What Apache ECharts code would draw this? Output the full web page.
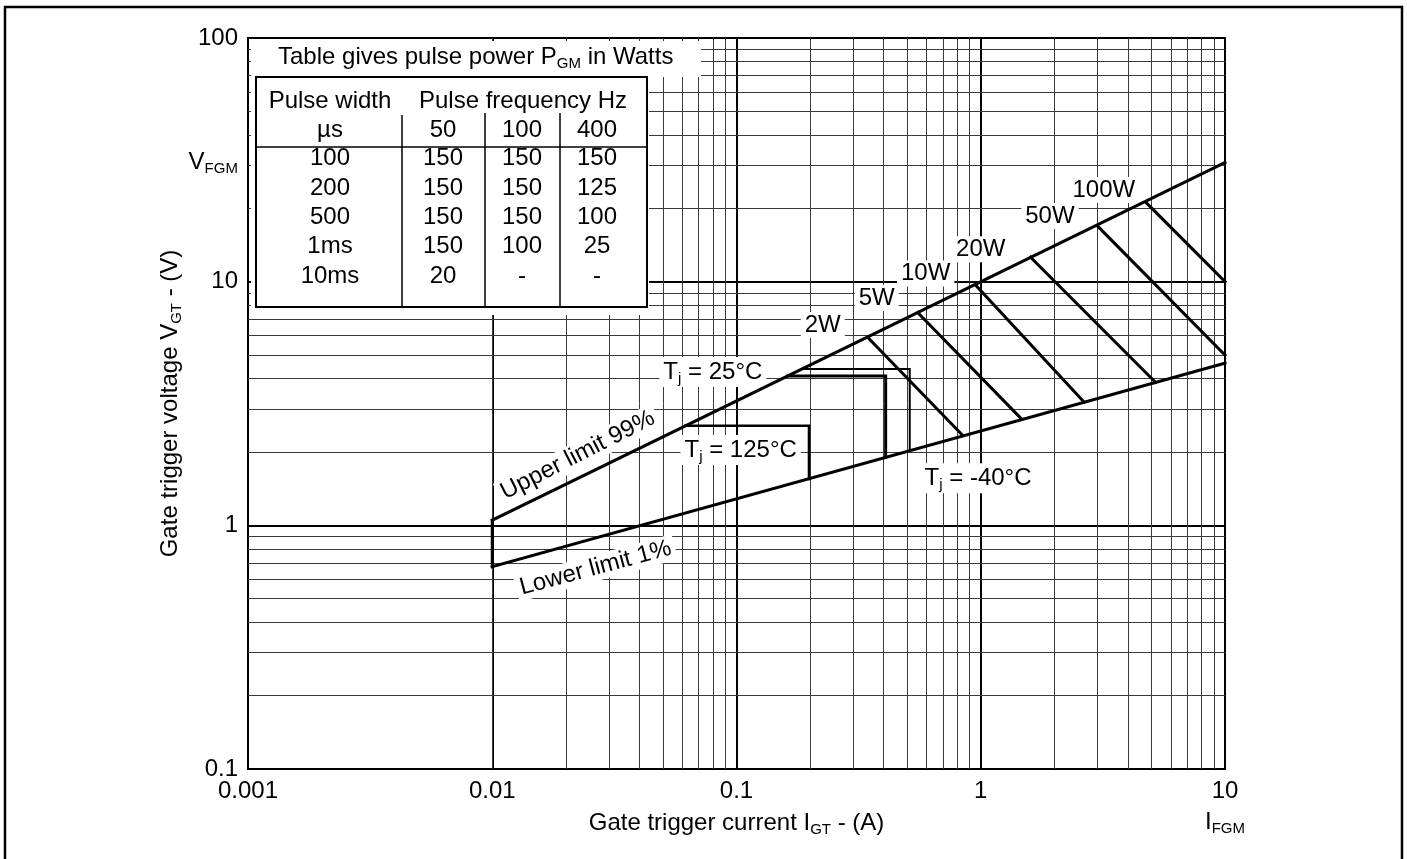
<!DOCTYPE html>
<html><head><meta charset="utf-8">
<script src="https://cdn.jsdelivr.net/npm/echarts@6/dist/echarts.min.js"></script>
<style>html,body{margin:0;padding:0;background:#fff}#c{width:1407px;height:859px}</style>
</head><body><div id="c"></div>
<script>
// ---- data ----
const xTicks = [0.001, 0.01, 0.1, 1, 10];
const yTicks = [0.1, 1, 10, 100];
const upperLimit = [[0.01, 1.05], [10, 30.8]];
const lowerLimit = [[0.01, 0.676], [10, 4.63]];
const leftEdge = [[0.01, 1.05], [0.01, 0.676]];
const tjMinus40Box = [[0.185, 4.38], [0.512, 4.38], [0.512, 2.02]];
const tj25Box = [[0.162, 4.10], [0.408, 4.10], [0.408, 1.90]];
const tj125Box = [[0.0617, 2.56], [0.198, 2.56], [0.198, 1.55]];
const power2W = [[0.345, 5.9], [0.84, 2.35]];
const power5W = [[0.553, 7.46], [1.46, 2.75]];
const power10W = [[0.95, 9.7], [2.65, 3.2]];
const power20W = [[1.6, 12.6], [5.2, 3.86]];
const power50W = [[3.01, 16.9], [10, 5.0]];
const power100W = [[4.78, 21.0], [10, 10]];
const powerLabels = ['2W', '5W', '10W', '20W', '50W', '100W'];
const powerLabelAt = [[0.2255, 6.64], [0.375, 8.57], [0.595, 10.8], [1.0, 13.6], [1.92, 18.6], [3.19, 23.8]];
const tjLabels = ['T{sub|j} = 25°C', 'T{sub|j} = 125°C', 'T{sub|j} = -40°C'];
const tjLabelAt = [[0.080, 4.26], [0.104, 2.04], [0.975, 1.56]];
const limitLabels = ['Upper limit 99%', 'Lower limit 1%'];
const limitLabelAt = [[0.0224, 1.94], [0.0265, 0.668]];
const vfgmAt = [0.001, 31];
const ifgmAt = [10, 0.1];
const tableTitle = 'Table gives pulse power P{sub|GM} in Watts';
const tableHead1 = ['Pulse width', 'Pulse frequency Hz'];
const tableHead2 = ['µs', '50', '100', '400'];
const tableRows = [
  ['100', '150', '150', '150'],
  ['200', '150', '150', '125'],
  ['500', '150', '150', '100'],
  ['1ms', '150', '100', '25'],
  ['10ms', '20', '-', '-']
];

// ---- styling / layout ----
const FONT = '"Liberation Sans", Arial, Helvetica, sans-serif';
const FS = 24;
const subStyle = { fontSize: 15, fontFamily: FONT, color: '#000', padding: [13, 0, 0, 0], verticalAlign: 'bottom' };
const richBase = { sub: subStyle };

const chart = echarts.init(document.getElementById('c'), null, { renderer: 'canvas' });

function minorValues(lo, hi) {
  const out = [];
  for (let d = lo; d < hi * 0.999; d *= 10) {
    for (let k = 2; k <= 9; k++) out.push(+(d * k).toPrecision(3));
  }
  return out;
}
const xMinor = minorValues(xTicks[0], xTicks[xTicks.length - 1]);
const yMinor = minorValues(yTicks[0], yTicks[yTicks.length - 1]);

function lineSeries(data, width, z) {
  return {
    type: 'line', data: data, symbol: 'none', silent: true, z: z || 10,
    lineStyle: { color: '#000', width: width, cap: 'square', join: 'miter' }, animation: false
  };
}

function labelSeries(texts, positions, extra) {
  return {
    type: 'scatter', symbolSize: 0.1, silent: true, z: 6, animation: false,
    itemStyle: { color: '#fff', opacity: 1 },
    data: texts.map((t, i) => ({
      value: positions[i],
      label: Object.assign({
        show: true, position: 'inside', formatter: t, color: '#000', opacity: 1,
        fontSize: FS, fontFamily: FONT, backgroundColor: '#fff', padding: [1, 4],
        rich: richBase
      }, extra ? extra(i) : {})
    }))
  };
}

const series = [
  {
    type: 'line', data: [], symbol: 'none', silent: true, z: 1, animation: false,
    markLine: {
      silent: true, symbol: ['none', 'none'], label: { show: false }, animation: false,
      lineStyle: { type: 'solid', color: '#3a3a3a', width: 1 },
      data: xMinor.map(v => ({ xAxis: v })).concat(yMinor.map(v => ({ yAxis: v })))
    }
  },
  lineSeries(upperLimit, 3),
  lineSeries(lowerLimit, 3),
  lineSeries(leftEdge, 3),
  lineSeries(tjMinus40Box, 2),
  lineSeries(tj25Box, 3),
  lineSeries(tj125Box, 2.5),
  lineSeries(power2W, 3),
  lineSeries(power5W, 3),
  lineSeries(power10W, 3),
  lineSeries(power20W, 3),
  lineSeries(power50W, 3),
  lineSeries(power100W, 3),
  labelSeries(powerLabels, powerLabelAt),
  labelSeries(tjLabels, tjLabelAt),
  labelSeries(limitLabels, limitLabelAt, i => ({ rotate: i === 0 ? 27 : 15 })),
  labelSeries(['V{sub|FGM}'], [vfgmAt], () => ({ position: 'left', distance: 6, backgroundColor: 'transparent' })),
  labelSeries(['I{sub|FGM}'], [ifgmAt], () => ({ position: 'bottom', distance: 38, backgroundColor: 'transparent' }))
];

// table graphics (pixel layout of the inset table)
const colX = [330, 443, 522, 597];
const rowY = [158, 188, 217, 246, 276];
function txt(x, y, s, align) {
  return {
    type: 'text', z: 101, silent: true,
    style: { x: x, y: y, text: s, fill: '#000', fontSize: FS, fontFamily: FONT,
      align: align || 'center', verticalAlign: 'middle', rich: richBase }
  };
}
function seg(x1, y1, x2, y2, w) {
  return { type: 'line', z: 101, silent: true, shape: { x1: x1, y1: y1, x2: x2, y2: y2 }, style: { stroke: '#000', lineWidth: w } };
}
const graphics = [
  { type: 'rect', z: 100, silent: true, shape: { x: 251, y: 41, width: 450, height: 36 }, style: { fill: '#fff' } },
  { type: 'rect', z: 100, silent: true, shape: { x: 251, y: 41, width: 398, height: 274 }, style: { fill: '#fff' } },
  { type: 'rect', z: 101, silent: true, shape: { x: 256, y: 77, width: 391, height: 230 }, style: { fill: 'none', stroke: '#000', lineWidth: 2 } },
  seg(256, 147, 647, 147, 1.5),
  seg(402, 115, 402, 307, 1.5),
  seg(485, 113, 485, 307, 1.5),
  seg(560, 113, 560, 307, 1.5),
  txt(278, 57, tableTitle, 'left'),
  txt(colX[0], 101, tableHead1[0]),
  txt(523, 101, tableHead1[1]),
  { type: 'rect', z: 102, silent: true, shape: { x: 5, y: 7, width: 1397, height: 900 }, style: { fill: 'none', stroke: '#000', lineWidth: 2.5 } }
];
tableHead2.forEach((s, c) => graphics.push(txt(colX[c], 130, s)));
tableRows.forEach((row, r) => row.forEach((s, c) => graphics.push(txt(colX[c], rowY[r], s))));

const axisLabelStyle = { color: '#000', fontSize: FS, fontFamily: FONT,
  formatter: v => String(+(+v).toPrecision(6)) };

chart.setOption({
  animation: false,
  backgroundColor: '#fff',
  textStyle: { fontFamily: FONT },
  grid: { left: 248, right: 182, top: 38, bottom: 90, show: true, borderColor: '#000', borderWidth: 2, backgroundColor: '#fff', containLabel: false },
  xAxis: {
    type: 'log', logBase: 10, min: xTicks[0], max: xTicks[xTicks.length - 1],
    axisLine: { show: false }, axisTick: { show: false },
    splitLine: { show: true, lineStyle: { color: '#000', width: 2 } },
    axisLabel: Object.assign({ margin: 10 }, axisLabelStyle),
    name: 'Gate trigger current I{sub|GT} - (A)', nameLocation: 'middle', nameGap: 40,
    nameTextStyle: { color: '#000', fontSize: FS, fontFamily: FONT, rich: richBase }
  },
  yAxis: {
    type: 'log', logBase: 10, min: yTicks[0], max: yTicks[yTicks.length - 1],
    axisLine: { show: false }, axisTick: { show: false },
    splitLine: { show: true, lineStyle: { color: '#000', width: 2 } },
    axisLabel: Object.assign({ margin: 10 }, axisLabelStyle),
    name: 'Gate trigger voltage V{sub|GT} - (V)', nameLocation: 'middle', nameGap: 64,
    nameTextStyle: { color: '#000', fontSize: FS, fontFamily: FONT, rich: richBase }
  },
  graphic: { elements: graphics },
  series: series
});
</script></body></html>
